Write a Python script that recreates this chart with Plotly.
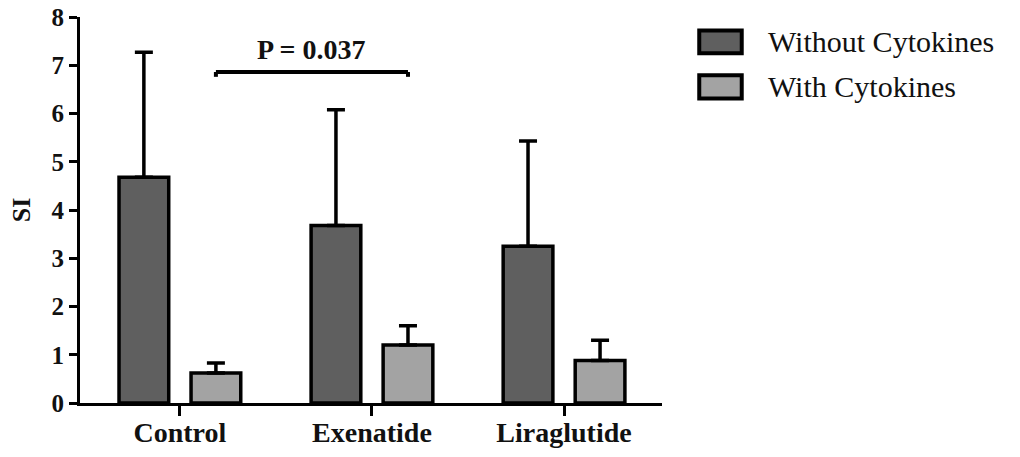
import plotly.graph_objects as go

categories = ["Control", "Exenatide", "Liraglutide"]
series_names = ["Without Cytokines", "With Cytokines"]
without_mean = [4.68, 3.68, 3.25]
without_sd = [2.59, 2.40, 2.18]
with_mean = [0.62, 1.20, 0.88]
with_sd = [0.21, 0.40, 0.42]
y_ticks = [0, 1, 2, 3, 4, 5, 6, 7, 8]
p_label = "P = 0.037"
p_bracket_y = 6.86
colors = ["#5f5f5f", "#a3a3a3"]

FONT = "Liberation Serif"

fig = go.Figure()
for name, means, sds, col in [
    (series_names[0], without_mean, without_sd, colors[0]),
    (series_names[1], with_mean, with_sd, colors[1]),
]:
    fig.add_trace(go.Bar(
        x=categories, y=means, name=name,
        marker=dict(color=col, line=dict(color="black", width=3.5)),
        error_y=dict(type="data", symmetric=False, array=sds,
                     arrayminus=[0] * len(sds), color="black",
                     thickness=3.5, width=9),
        showlegend=False,
    ))

fig.update_layout(
    barmode="group", bargap=0.25, bargroupgap=0.31,
    width=1020, height=457,
    margin=dict(l=80, r=358, t=17, b=54),
    plot_bgcolor="white", paper_bgcolor="white",
    font=dict(family=FONT, color="#111111"),
)
fig.update_xaxes(
    range=[-0.52, 2.51], showline=True, linecolor="black", linewidth=3,
    ticks="outside", ticklen=10, tickwidth=3, tickcolor="black",
    tickvals=categories, ticktext=[f"<b>{c}</b>" for c in categories],
    tickfont=dict(family=FONT, size=28, color="#111111"),
    ticklabelstandoff=-8,
    showgrid=False, zeroline=False, automargin=False,
)
fig.update_yaxes(
    range=[0, 8], tickvals=y_ticks, ticktext=[f"<b>{v}</b>" for v in y_ticks],
    showline=True, linecolor="black", linewidth=3,
    ticks="outside", ticklen=8, tickwidth=3, tickcolor="black",
    tickfont=dict(family=FONT, size=25, color="#111111"),
    title=dict(text="<b>SI</b>", font=dict(family=FONT, size=26), standoff=14),
    showgrid=False, zeroline=False, automargin=False,
)

# significance bracket between Control (with) and Exenatide (with)
x0, x1 = 0.1875, 1.1875
fig.add_shape(type="line", xref="x", yref="y", x0=x0, x1=x1,
              y0=p_bracket_y, y1=p_bracket_y, line=dict(color="black", width=4))
for xv in (x0, x1):
    fig.add_shape(type="line", xref="x", yref="y", x0=xv, x1=xv,
                  y0=p_bracket_y, y1=p_bracket_y - 0.1, line=dict(color="black", width=4))
fig.add_annotation(x=(x0 + x1) / 2, y=p_bracket_y, xref="x", yref="y",
                   text=f"<b>{p_label}</b>", showarrow=False, yanchor="bottom", yshift=5,
                   font=dict(family=FONT, size=28, color="#111111"))

# custom legend
leg_rows = [(0.965, 0.906), (0.849, 0.789)]
for (ytop, ybot), name, col in zip(leg_rows, series_names, colors):
    fig.add_shape(type="rect", xref="paper", yref="paper",
                  x0=1.064, x1=1.137, y0=ybot, y1=ytop,
                  fillcolor=col, line=dict(color="black", width=4))
    fig.add_annotation(xref="paper", yref="paper", x=1.178, y=(ytop + ybot) / 2,
                       text=name, showarrow=False, xanchor="left", yanchor="middle",
                       font=dict(family=FONT, size=30, color="#111111"))

fig.write_html("out.html")
